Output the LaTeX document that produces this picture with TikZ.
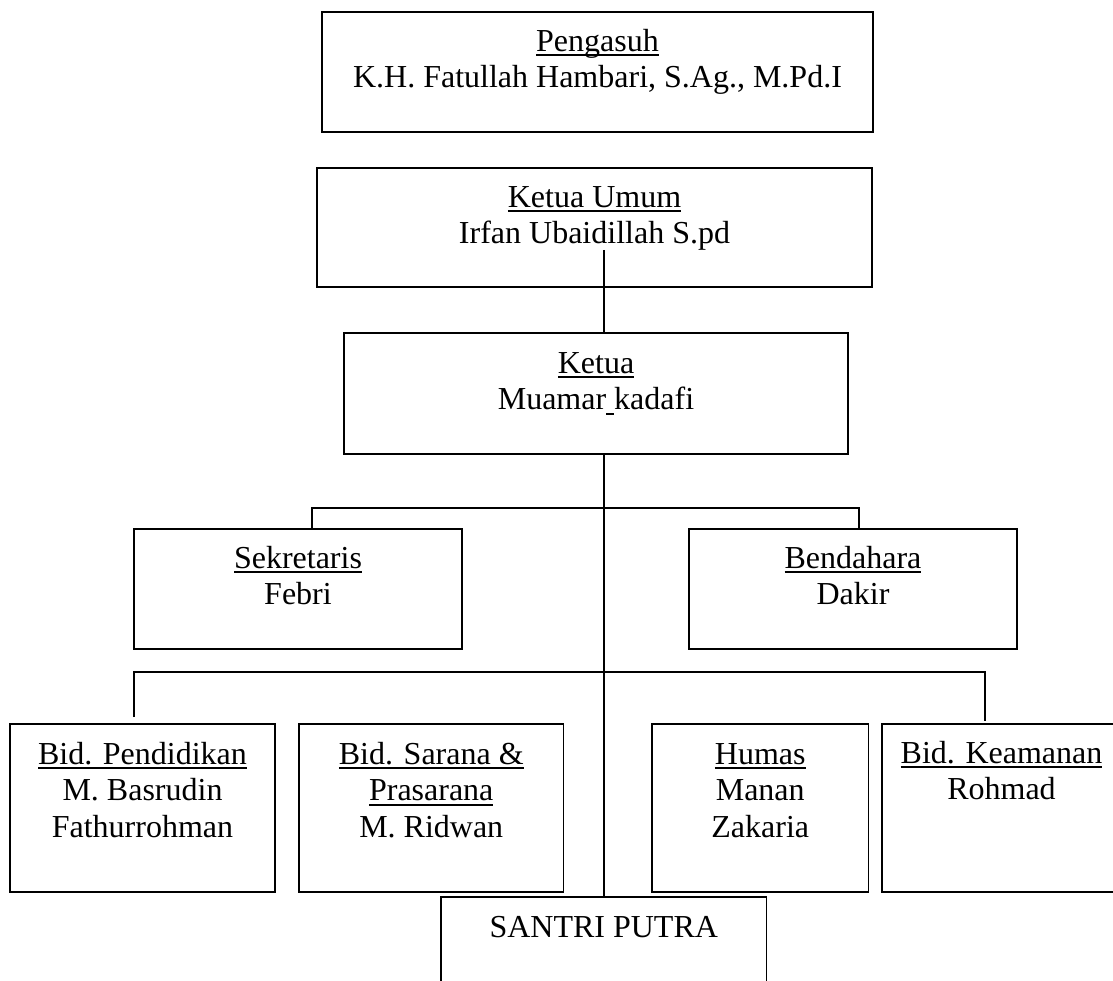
\documentclass[tikz,border=0pt]{standalone}
\usepackage{fontspec}
\setmainfont{Liberation Serif}
\newcommand\myul[1]{\setbox0\hbox{#1}\rlap{\rule[-5pt]{\wd0}{1.8pt}}\box0}
\newcommand\mylines[1]{\begin{tabular}[t]{@{}c@{}}#1\end{tabular}}
\begin{document}
\begin{tikzpicture}[x=1pt,y=-1pt,
  box/.style={draw, line width=1.8pt, inner sep=0pt},
  txt/.style={anchor=base, inner sep=0pt, font=\fontsize{32}{36.5}\selectfont},
  conn/.style={line width=1.8pt}]
\useasboundingbox (0,0) rectangle (1113,981);
% boxes
\node[box, minimum width=551pt, minimum height=120pt] (pg) at (597.5,72) {};
\node[box, minimum width=555pt, minimum height=119pt] (ku) at (594.5,227.5) {};
\node[box, minimum width=504pt, minimum height=121pt] (kt) at (596,393.5) {};
\node[box, minimum width=328pt, minimum height=120pt] (sk) at (298,589) {};
\node[box, minimum width=328pt, minimum height=120pt] (bd) at (853,589) {};
\node[box, minimum width=265pt, minimum height=168pt] (pd) at (142.5,808) {};
\node[box, minimum width=264.5pt, minimum height=168pt] (sp) at (431.25,808) {};
\node[box, minimum width=216.5pt, minimum height=168pt] (hm) at (760.25,808) {};
\node[box, minimum width=239pt, minimum height=168pt] (ka) at (1001.5,808) {};
\node[box, minimum width=325.5pt, minimum height=113pt] (sn) at (603.75,953.5) {};
% texts
\node[txt] (pgt) at ([yshift=-40pt]pg.north) {\mylines{\myul{Pengasuh}\\K.H. Fatullah Hambari, S.Ag., M.Pd.I}};
\node[txt] (kut) at ([yshift=-40pt]ku.north) {\mylines{\myul{Ketua Umum}\\Irfan Ubaidillah S.pd}};
\node[txt] (ktt) at ([yshift=-41pt]kt.north) {\mylines{\myul{Ketua}\\Muamar\myul{\ }kadafi}};
\node[txt] (skt) at ([yshift=-40pt]sk.north) {\mylines{\myul{Sekretaris}\\Febri}};
\node[txt] (bdt) at ([yshift=-40pt]bd.north) {\mylines{\myul{Bendahara}\\Dakir}};
\node[txt] (pdt) at ([yshift=-41pt]pd.north) {\mylines{\myul{Bid. Pendidikan}\\M. Basrudin\\Fathurrohman}};
\node[txt] (spt) at ([yshift=-41pt]sp.north) {\mylines{\myul{Bid. Sarana \&}\\\myul{Prasarana}\\M. Ridwan}};
\node[txt] (hmt) at ([yshift=-41pt]hm.north) {\mylines{\myul{Humas}\\Manan\\Zakaria}};
\node[txt] (kat) at ([yshift=-40pt]ka.north) {\mylines{\myul{Bid. Keamanan}\\Rohmad}};
\node[txt] (snt) at ([yshift=-41pt]sn.north) {SANTRI PUTRA};
% connectors
\coordinate (kuin) at (604,250);
\coordinate (ub1) at (312,508);
\coordinate (ub2) at (859,508);
\coordinate (lb1) at (134,672);
\coordinate (lb2) at (985,672);
\coordinate (lb1e) at (134,717);
\coordinate (lb2e) at (985,721);
\draw[conn] (kuin) -- (kt.north -| kuin);
\draw[conn] (kt.south -| kuin) -- (sn.north -| kuin);
\draw[conn] (sk.north -| ub1) -- (ub1) -- (ub2) -- (bd.north -| ub2);
\draw[conn] (lb1e) -- (lb1) -- (lb2) -- (lb2e);
\end{tikzpicture}
\end{document}
